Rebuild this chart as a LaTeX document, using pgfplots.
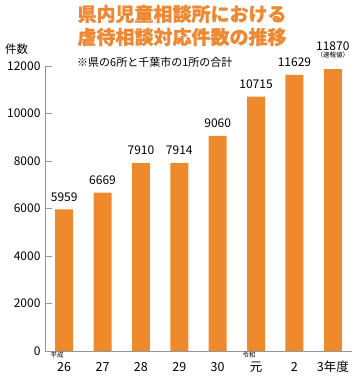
\documentclass[border=0pt]{standalone}
\usepackage{fontspec}
\setmainfont{Noto Sans CJK JP}
\newfontfamily\titlefont{Noto Sans CJK JP}[BoldFeatures={FakeBold=0.7}]
\usepackage{pgfplots}
\pgfplotsset{compat=1.18}
\definecolor{barorange}{RGB}{238,138,44}
\definecolor{titleorange}{RGB}{238,136,50}
\definecolor{axgray}{RGB}{150,150,150}
\tikzset{
  vl/.style={anchor=south, font=\fontsize{12}{12}\selectfont, inner sep=0pt, yshift=8pt},
  xl/.style={anchor=base, font=\fontsize{12.5}{12.5}\selectfont, inner sep=0pt, yshift=-21pt},
  sl/.style={anchor=base, font=\fontsize{6.5}{6.5}\selectfont, inner sep=0pt, xshift=-7pt, yshift=-7pt},
}
\begin{document}
\begin{tikzpicture}[x=1pt,y=1pt]
\useasboundingbox (0,0) rectangle (360,378);
\begin{axis}[
  at={(45pt,27pt)}, anchor=south west,
  scale only axis, width=307pt, height=285pt,
  xmin=-0.5, xmax=7.5, ymin=0, ymax=12000,
  axis lines=left, axis line style={-, axgray, line width=0.8pt},
  xtick=\empty,
  ytick={0,2000,4000,6000,8000,10000,12000},
  scaled y ticks=false,
  tick style={axgray, line width=0.8pt},
  tick align=inside, major tick length=7pt,
  /pgf/number format/1000 sep={},
  /pgf/number format/assume math mode=true,
  yticklabel style={font=\fontsize{12}{12}\selectfont, xshift=-1pt},
  clip=false,
]
\addplot[ybar, bar width=18pt, fill=barorange, draw=none] coordinates {
(0,5959) (1,6669) (2,7910) (3,7914) (4,9060) (5,10715) (6,11629) (7,11870)};
\node[vl] at (axis cs:0,5959) {5959};
\node[vl] at (axis cs:1,6669) {6669};
\node[vl] at (axis cs:2,7910) {7910};
\node[vl] at (axis cs:3,7914) {7914};
\node[vl] at (axis cs:4,9060) {9060};
\node[vl] at (axis cs:5,10715) {10715};
\node[vl] at (axis cs:6,11629) {11629};
\node[vl, yshift=10pt] at (axis cs:7,11870) {11870};
\node[anchor=south, font=\fontsize{6.5}{6.5}\selectfont, inner sep=0pt, yshift=11pt] at (axis cs:7,11870) {（速報値）};
\node[xl] at (axis cs:0,0) {26};
\node[xl] at (axis cs:1,0) {27};
\node[xl] at (axis cs:2,0) {28};
\node[xl] at (axis cs:3,0) {29};
\node[xl] at (axis cs:4,0) {30};
\node[xl] at (axis cs:5,0) {元};
\node[xl] at (axis cs:6,0) {2};
\node[xl] at (axis cs:7,0) {3年度};
\node[sl] at (axis cs:0,0) {平成};
\node[sl] at (axis cs:5,0) {令和};
\end{axis}
\node[font=\titlefont\bfseries\fontsize{19}{19}\selectfont, text=titleorange, inner sep=0pt] at (182,364) {県内児童相談所における};
\node[font=\titlefont\bfseries\fontsize{19}{19}\selectfont, text=titleorange, inner sep=0pt] at (182,341) {虐待相談対応件数の推移};
\node[font=\fontsize{11}{11}\selectfont, anchor=west, inner sep=0pt] at (77,316) {※県の6所と千葉市の1所の合計};
\node[font=\fontsize{11.5}{11.5}\selectfont, anchor=west, inner sep=0pt] at (5,329) {件数};
\end{tikzpicture}
\end{document}
